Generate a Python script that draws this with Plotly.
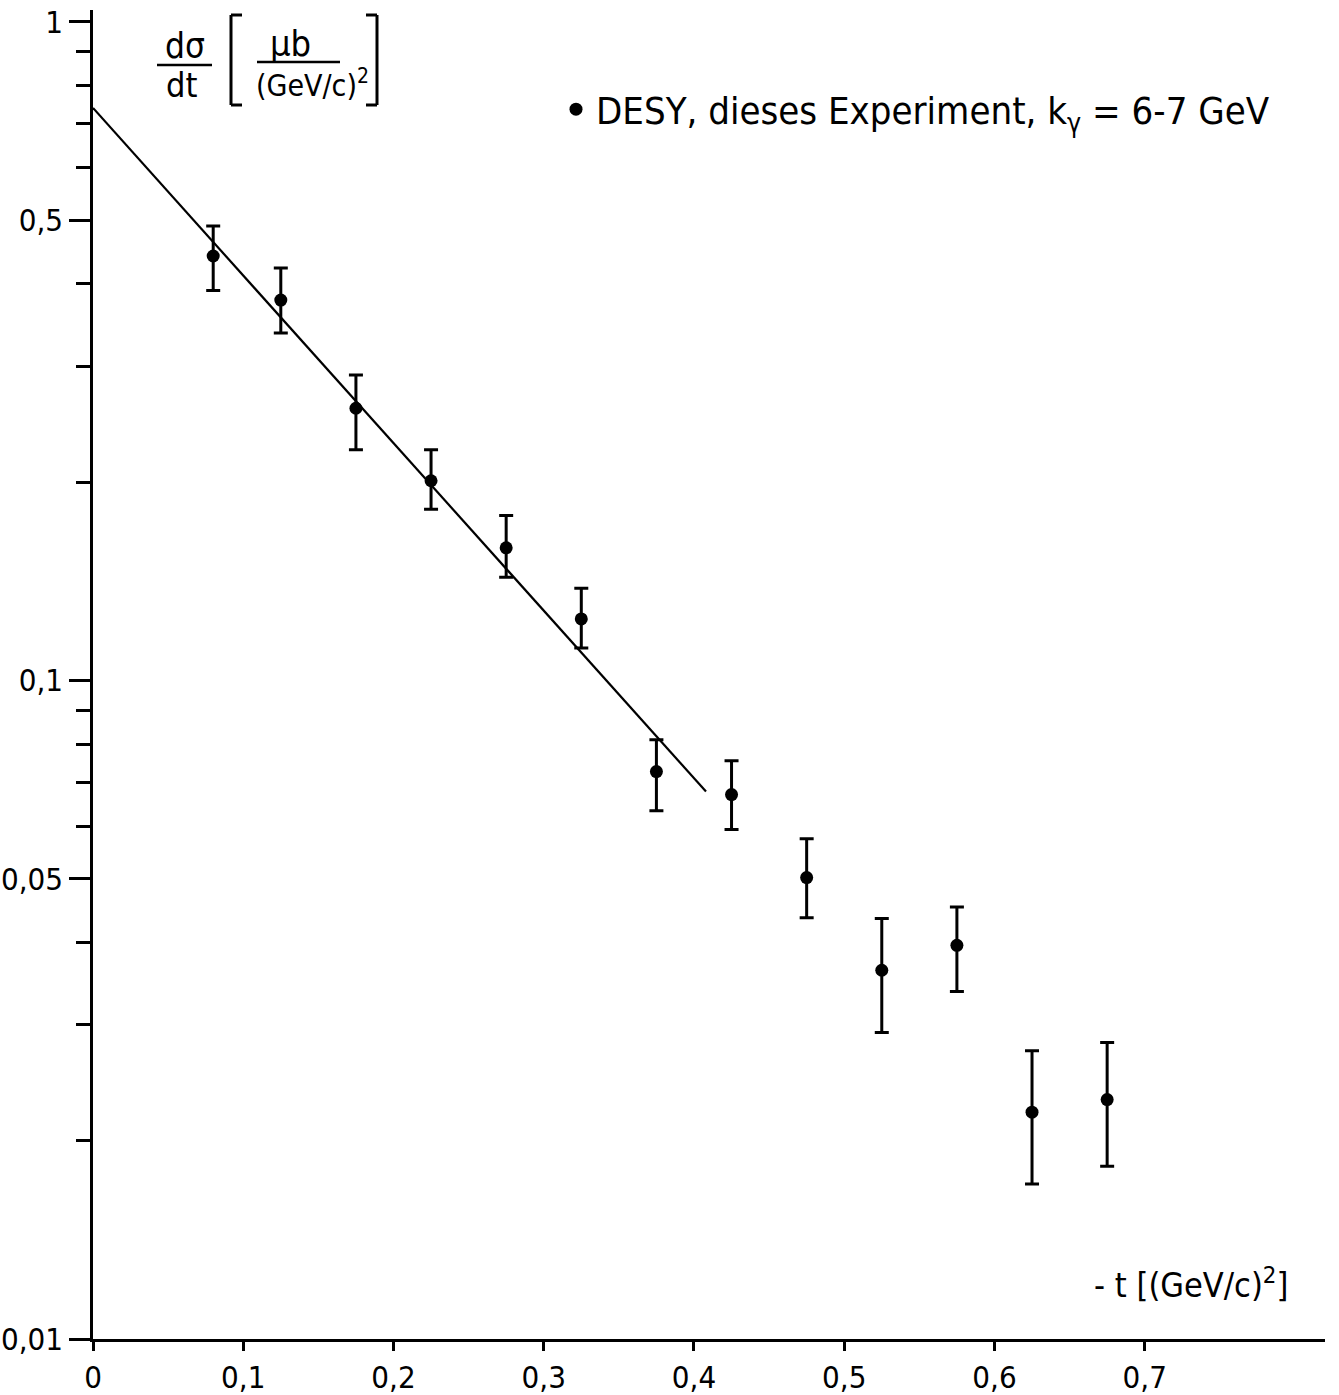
import plotly.graph_objects as go

# ---- data ----
t_vals = [0.08, 0.125, 0.175, 0.225, 0.275, 0.325, 0.375, 0.425, 0.475, 0.525, 0.575, 0.625, 0.675]
dsdt = [0.441, 0.378, 0.259, 0.201, 0.159, 0.124, 0.0727, 0.0671, 0.0502, 0.0363, 0.0396, 0.0221, 0.0231]
err_hi = [0.490, 0.423, 0.291, 0.224, 0.178, 0.138, 0.0813, 0.0755, 0.0575, 0.0435, 0.0453, 0.0274, 0.0282]
err_lo = [0.391, 0.337, 0.224, 0.182, 0.1434, 0.112, 0.0634, 0.0594, 0.0436, 0.0292, 0.0337, 0.0172, 0.0183]

fit_t = [0.0, 0.408]
fit_y = [0.74, 0.0678]

x_ticks = [0, 0.1, 0.2, 0.3, 0.4, 0.5, 0.6, 0.7]
x_ticktext = ["0", "0,1", "0,2", "0,3", "0,4", "0,5", "0,6", "0,7"]
y_major = [0.01, 0.05, 0.1, 0.5, 1]
y_major_text = ["0,01", "0,05", "0,1", "0,5", "1"]
y_minor = [0.02, 0.03, 0.04, 0.06, 0.07, 0.08, 0.09, 0.2, 0.3, 0.4, 0.6, 0.7, 0.8, 0.9]

legend_label = "DESY, dieses Experiment, k<sub>γ</sub> = 6-7 GeV"

FONT = "DejaVu Sans Condensed, DejaVu Sans, sans-serif"

W, H = 1339, 1395
ML, MR, MT, MB = 93, 14, 10, 56

def px(x):
    return (x - ML) / (W - ML - MR)

def py(y):
    return (H - MB - y) / (H - MT - MB)

up = [h - v for h, v in zip(err_hi, dsdt)]
dn = [v - l for l, v in zip(err_lo, dsdt)]

fig = go.Figure()
fig.add_trace(go.Scatter(
    x=fit_t, y=fit_y, mode="lines",
    line=dict(color="black", width=2.2), showlegend=False, hoverinfo="skip"))
fig.add_trace(go.Scatter(
    x=t_vals, y=dsdt, mode="markers", name=legend_label,
    marker=dict(color="black", size=13),
    error_y=dict(type="data", symmetric=False, array=up, arrayminus=dn,
                 color="black", thickness=3, width=7),
    showlegend=True))

ann = []
def add_text(text, x, y, size, xanchor="center", yanchor="middle"):
    ann.append(dict(text=text, x=px(x), y=py(y), xref="paper", yref="paper",
                    showarrow=False, xanchor=xanchor, yanchor=yanchor,
                    font=dict(family=FONT, size=size, color="black")))

# y-axis title as fraction
add_text("dσ", 185, 46, 35)
add_text("dt", 181, 85, 34)
add_text("μb", 290, 44, 36)
add_text("(GeV/c)<sup>2</sup>", 312, 84, 30)
# x-axis title
add_text("- t [(GeV/c)<sup>2</sup>]", 1290, 1283, 34, xanchor="right")

shapes = []
def line(x0, y0, x1, y1, w=2.5):
    shapes.append(dict(type="line", xref="paper", yref="paper",
                       x0=px(x0), y0=py(y0), x1=px(x1), y1=py(y1),
                       line=dict(color="black", width=w)))
line(157, 65, 212, 65)
line(257, 62, 340, 62)
# brackets
line(231, 15, 231, 105, 3)
line(231, 15, 242, 15, 3)
line(231, 105, 242, 105, 3)
line(377, 15, 377, 105, 3)
line(366, 15, 377, 15, 3)
line(366, 105, 377, 105, 3)

fig.update_layout(
    width=W, height=H,
    margin=dict(l=ML, r=MR, t=MT, b=MB, autoexpand=False),
    paper_bgcolor="white", plot_bgcolor="white",
    font=dict(family=FONT, size=30, color="black"),
    annotations=ann, shapes=shapes,
    legend=dict(x=px(556), y=py(78), xanchor="left", yanchor="top",
                bgcolor="rgba(0,0,0,0)", font=dict(family=FONT, size=38, color="black"),
                itemwidth=30),
    xaxis=dict(range=[0, 0.82], tickvals=x_ticks, ticktext=x_ticktext,
               ticks="outside", ticklen=9, tickwidth=2.5, tickcolor="black",
               showline=True, linecolor="black", linewidth=2.5,
               showgrid=False, zeroline=False, automargin=False,
               tickfont=dict(family=FONT, size=31, color="black")),
    yaxis=dict(type="log", range=[-2, 0.018], tickvals=y_major, ticktext=y_major_text,
               ticks="outside", ticklen=21, tickwidth=2.5, tickcolor="black",
               showline=True, linecolor="black", linewidth=2.5,
               showgrid=False, zeroline=False, automargin=False,
               tickfont=dict(family=FONT, size=31, color="black"),
               minor=dict(tickvals=y_minor, ticks="outside", ticklen=14,
                          tickwidth=2.5, tickcolor="black", showgrid=False)),
)

fig.write_html("out.html")
